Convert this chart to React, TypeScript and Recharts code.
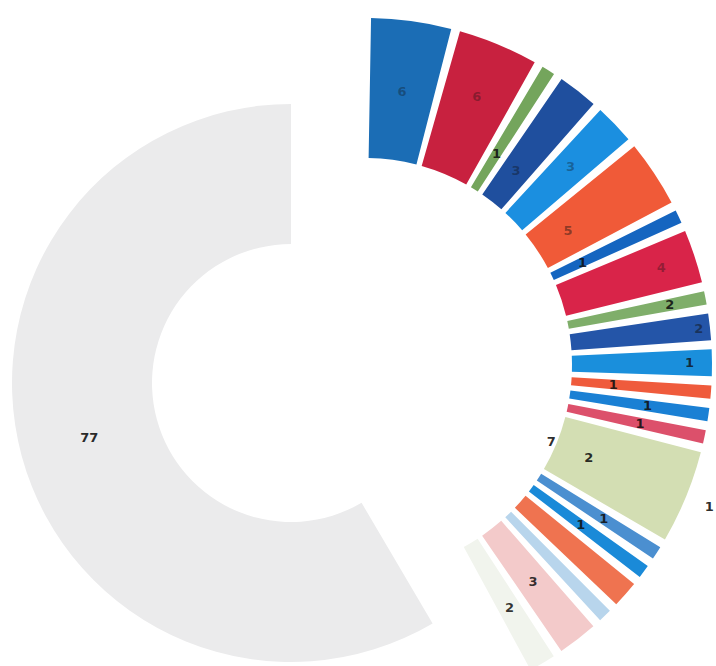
import { PieChart, Pie, Cell } from "recharts";

// big grey slice
const restValue = [77];
const restLabel = ["77"];

// coloured slices, clockwise from the top
const sliceValues = [6, 6, 1, 3, 3, 5, 1, 4, 1, 2, 2, 1, 1, 1, 7, 1, 1, 2, 1, 3, 2];
const sliceLabels = [
  ["6"], ["6"], ["1"], ["3"], ["3"], ["5"], ["1"], ["4"], ["2"], ["2"], ["1"],
  ["1"], ["1"], ["1"], ["7", "2", "1"], ["1"], ["1"], [], [], ["3"], ["2"],
];

const sliceColors = [
  "#1b6db5", "#c8213f", "#74a55c", "#1f4f9e", "#1b8fe0", "#f05a38", "#1565c0",
  "#d92449", "#7fae6a", "#2455a8", "#1a8fdc", "#ef5b3c", "#1a80d4", "#dc506b",
  "#d3deb3", "#4b8fd0", "#1a8ad8", "#ef7350", "#b8d5ec", "#f3caca", "#f1f4ed",
];

// where each label sits across the ring (0 = inner edge, 1 = outer edge)
const labelFrac = [
  [0.49], [0.6], [0.3], [0.28], [0.56], [0.26], [0.24], [0.75], [0.74], [0.92], [0.84],
  [0.3], [0.56], [0.53], [-0.04, 0.25, 1.18], [0.55], [0.44], [], [], [0.48], [0.54],
];
const labelAlpha = [0.35, 0.35, 0.9, 0.4, 0.35, 0.45, 0.9, 0.35, 0.9, 0.5, 0.8, 0.9, 0.9, 0.9, 0.9, 0.9, 0.9, 0.9, 0.9, 0.85, 0.85];

const RAD = Math.PI / 180;

const rest = restValue.map((v, i) => ({ name: restLabel[i], value: v }));
const slices = sliceValues.map((v, i) => ({ name: "s" + i, value: v }));

function sliceLabel(p: any) {
  const { cx, cy, midAngle, innerRadius, outerRadius, index } = p;
  const texts = sliceLabels[index] || [];
  return (
    <g>
      {texts.map((t, k) => {
        const r = innerRadius + labelFrac[index][k] * (outerRadius - innerRadius);
        const x = cx + r * Math.cos(-midAngle * RAD);
        const y = cy + r * Math.sin(-midAngle * RAD);
        return (
          <text
            key={k}
            x={x}
            y={y}
            textAnchor="middle"
            dominantBaseline="central"
            fontSize={13}
            fontWeight="bold"
            fill="#111"
            fillOpacity={labelAlpha[index]}
          >
            {t}
          </text>
        );
      })}
    </g>
  );
}

function restLabelFn(p: any) {
  const { cx, cy, midAngle, innerRadius, outerRadius, index } = p;
  const r = (innerRadius + outerRadius) / 2;
  return (
    <text
      x={cx + r * Math.cos(-midAngle * RAD)}
      y={cy + r * Math.sin(-midAngle * RAD)}
      textAnchor="middle"
      dominantBaseline="central"
      fontSize={13}
      fontWeight="bold"
      fill="#2a2a2a"
    >
      {restLabel[index]}
    </text>
  );
}

export default function App() {
  return (
    <div style={{ position: "absolute", left: 0, top: 0, fontFamily: "DejaVu Sans" }}>
      <PieChart width={716} height={666} margin={{ top: 0, right: 0, bottom: 0, left: 0 }}>
        <Pie
          data={rest}
          dataKey="value"
          cx={291}
          cy={383}
          innerRadius={139}
          outerRadius={279}
          startAngle={90}
          endAngle={300.5}
          stroke="none"
          label={restLabelFn}
          labelLine={false}
          isAnimationActive={false}
        >
          <Cell fill="#ebebec" />
        </Pie>
        <Pie
          data={slices}
          dataKey="value"
          cx={365}
          cy={365}
          innerRadius={207}
          outerRadius={347}
          startAngle={89}
          endAngle={-61.5}
          paddingAngle={1.5}
          stroke="none"
          label={sliceLabel}
          labelLine={false}
          isAnimationActive={false}
        >
          {slices.map((d, i) => (
            <Cell key={d.name} fill={sliceColors[i]} />
          ))}
        </Pie>
      </PieChart>
    </div>
  );
}
